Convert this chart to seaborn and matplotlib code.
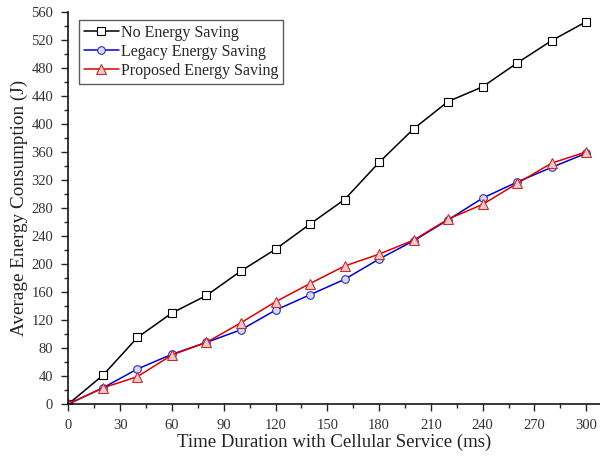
import numpy as np
import pandas as pd
import matplotlib
matplotlib.use('Agg')
import matplotlib.pyplot as plt
import seaborn as sns
from matplotlib.ticker import MultipleLocator

# 데이터
time_ms = [0, 20, 40, 60, 80, 100, 120, 140, 160, 180, 200, 220, 240, 260, 280, 300]
no_saving = [0, 41, 95, 130, 155, 190, 221, 257, 292, 345, 393, 432, 453, 487, 519, 546]
legacy = [0, 23, 50, 71, 88, 106, 134, 156, 178, 207, 233, 263, 294, 317, 338, 358]
proposed = [0, 23, 39, 70, 88, 116, 146, 172, 197, 214, 234, 264, 285, 315, 344, 360]

sns.set_style('ticks')
plt.rcParams['font.family'] = ['Liberation Serif', 'DejaVu Serif']

fig = plt.figure(figsize=(6, 4.57), dpi=100)
ax = fig.add_axes([0.114, 0.116, 0.886, 0.858])

series = [
    ('No Energy Saving', no_saving, 'black', 's', 'white', 'black'),
    ('Legacy Energy Saving', legacy, '#0000cc', 'o', '#d8d8f0', '#3030b0'),
    ('Proposed Energy Saving', proposed, '#dd0000', '^', '#f4c8c8', '#c03030'),
]
for name, vals, col, mk, fc, ec in series:
    df = pd.DataFrame({'t': time_ms, 'e': vals})
    sns.lineplot(data=df, x='t', y='e', ax=ax, color=col, lw=1.1,
                 marker=mk, markersize=5.5 if mk != '^' else 7.5,
                 markerfacecolor=fc, markeredgecolor=ec, markeredgewidth=0.8,
                 label=name)

ax.set_xlim(0, 308)
ax.set_ylim(0, 560)
ax.xaxis.set_major_locator(MultipleLocator(30))
ax.xaxis.set_minor_locator(MultipleLocator(15))
ax.yaxis.set_major_locator(MultipleLocator(40))
ax.yaxis.set_minor_locator(MultipleLocator(20))
ax.tick_params(which='major', direction='out', length=5, width=1, labelsize=10.5,
               labelcolor='#333333', pad=6)
ax.tick_params(which='minor', direction='out', length=3, width=1)
for s in ['top', 'right']:
    ax.spines[s].set_visible(False)
for s in ['left', 'bottom']:
    ax.spines[s].set_linewidth(1.1)
    ax.spines[s].set_color('black')

ax.set_xlabel('Time Duration with Cellular Service (ms)', fontsize=13.5, color='#222222', labelpad=1)
ax.set_ylabel('Average Energy Consumption (J)', fontsize=13.8, color='#222222', labelpad=2)

leg = ax.legend(loc='upper left', bbox_to_anchor=(0.005, 1.0), fontsize=11.5,
                frameon=True, fancybox=False, edgecolor='#333333',
                borderpad=0.3, labelspacing=0.2, handlelength=2.2, handletextpad=0.1)
leg.get_frame().set_linewidth(1.0)

fig.savefig('out.png', dpi=100)
